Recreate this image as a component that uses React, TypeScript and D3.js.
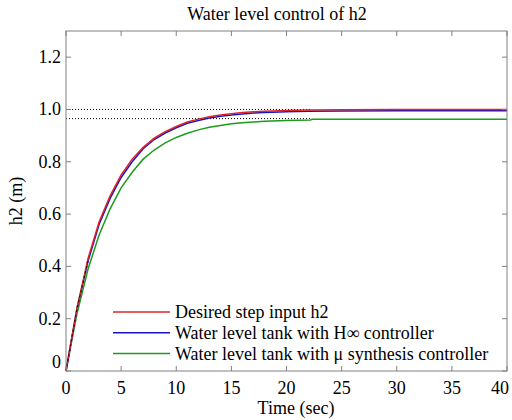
import React from "react";
import * as d3 from "d3";

const timeRed = [0, 1, 2, 3, 4, 5, 6, 7, 8, 9, 10, 11, 12, 13, 14, 15, 16, 17, 18, 20, 22, 25, 30, 40];
const desiredH2 = [0, 0.24, 0.43, 0.57, 0.67, 0.75, 0.81, 0.855, 0.89, 0.915, 0.935, 0.952, 0.963, 0.972, 0.979, 0.984, 0.988, 0.991, 0.993, 0.996, 0.998, 0.999, 1.0, 1.0];

const timeBlue = [0, 1, 2, 3, 4, 5, 6, 7, 8, 9, 10, 11, 12, 13, 14, 15, 16, 17, 18, 20, 22, 25, 30, 40];
const hinfH2 = [0, 0.24, 0.42, 0.56, 0.66, 0.74, 0.8, 0.85, 0.885, 0.91, 0.93, 0.947, 0.958, 0.967, 0.974, 0.979, 0.983, 0.986, 0.988, 0.991, 0.993, 0.994, 0.995, 0.995];

const timeGreen = [0, 1, 2, 3, 4, 5, 6, 7, 8, 9, 10, 11, 12, 13, 14, 15, 16, 17, 18, 20, 22.2, 22.3, 25, 30, 40];
const muH2 = [0, 0.22, 0.39, 0.52, 0.62, 0.7, 0.76, 0.81, 0.845, 0.872, 0.893, 0.909, 0.922, 0.932, 0.939, 0.945, 0.949, 0.952, 0.955, 0.958, 0.96, 0.963, 0.963, 0.963, 0.963];

const refLevels = [1.0, 0.965];
const refEnd = 22.2;

const xTicks = [0, 5, 10, 15, 20, 25, 30, 35, 40];
const yTicks = [0, 0.2, 0.4, 0.6, 0.8, 1.0, 1.2];
const yTickLabels = ["0", "0.2", "0.4", "0.6", "0.8", "1.0", "1.2"];

const legendLabels = [
  "Desired step input h2",
  "Water level tank with H\u221E controller",
  "Water level tank with \u03BC synthesis controller",
];
const colors = ["#e0232b", "#1515c8", "#1c9c1c"];

export default function App() {
  const W = 512, H = 420;
  const L = 66, R = 507, T = 31, B = 371;
  const x = d3.scaleLinear().domain([0, 40]).range([L, R]);
  const y = d3.scaleLinear().domain([0, 1.3]).range([B, T]);
  const line = d3.line<[number, number]>().x(d => x(d[0])).y(d => y(d[1]));
  const mk = (ts: number[], vs: number[]) => ts.map((t, i) => [t, vs[i]] as [number, number]);
  const fs: React.CSSProperties = {
    fontFamily: "\"Liberation Serif\", \"Times New Roman\", Times, Tinos, \"DejaVu Serif\", \"Noto Serif\", serif",
    fontSize: "18px",
  };
  const axisColor = "#808080";
  const series = [mk(timeRed, desiredH2), mk(timeBlue, hinfH2), mk(timeGreen, muH2)];
  const tl = 5;
  return (
    <svg width={W} height={H} style={{ position: "absolute", left: 0, top: 0, background: "#fff" }}>
      <rect x={0} y={0} width={W} height={H} fill="#fff" />
      <text x={277} y={20} textAnchor="middle" style={fs}>Water level control of h2</text>
      {refLevels.map((v, i) => (
        <line key={"r" + i} x1={x(0)} x2={x(refEnd)} y1={y(v)} y2={y(v)} stroke="#000" strokeWidth={1} strokeDasharray="1,2" />
      ))}
      {[series[2], series[1], series[0]].map((d, i) => (
        <path key={"s" + i} d={line(d) || ""} fill="none" stroke={colors[2 - i]} strokeWidth={1.5} />
      ))}
      <path d={line(series[1].slice(0, 3)) || ""} fill="none" stroke="#000" strokeWidth={1} strokeDasharray="2,3" />
      <rect x={L} y={T} width={R - L} height={B - T} fill="none" stroke={axisColor} strokeWidth={1} />
      {xTicks.map((t, i) => (
        <g key={"x" + i}>
          <line x1={x(t)} x2={x(t)} y1={B} y2={B - tl} stroke={axisColor} />
          <line x1={x(t)} x2={x(t)} y1={T} y2={T + tl} stroke={axisColor} />
          <text x={i === xTicks.length - 1 ? x(t) - 7 : x(t)} y={394} textAnchor="middle" style={fs}>{t}</text>
        </g>
      ))}
      {yTicks.map((t, i) => (
        <g key={"y" + i}>
          <line x1={L} x2={L + tl} y1={y(t)} y2={y(t)} stroke={axisColor} />
          <line x1={R} x2={R - tl} y1={y(t)} y2={y(t)} stroke={axisColor} />
          <text x={61} y={i === 0 ? y(t) - 3 : y(t) + 6} textAnchor="end" style={fs}>{yTickLabels[i]}</text>
        </g>
      ))}
      <text x={296} y={414} textAnchor="middle" style={fs}>Time (sec)</text>
      <text transform={`translate(22,${(T + B) / 2}) rotate(-90)`} textAnchor="middle" style={fs}>h2 (m)</text>
      {legendLabels.map((lab, i) => {
        const ly = 312 + i * 20.8;
        return (
          <g key={"l" + i}>
            <line x1={113} x2={170} y1={ly} y2={ly} stroke={colors[i]} strokeWidth={1.5} />
            <text x={175} y={ly + 6} style={fs}>{lab}</text>
          </g>
        );
      })}
    </svg>
  );
}
